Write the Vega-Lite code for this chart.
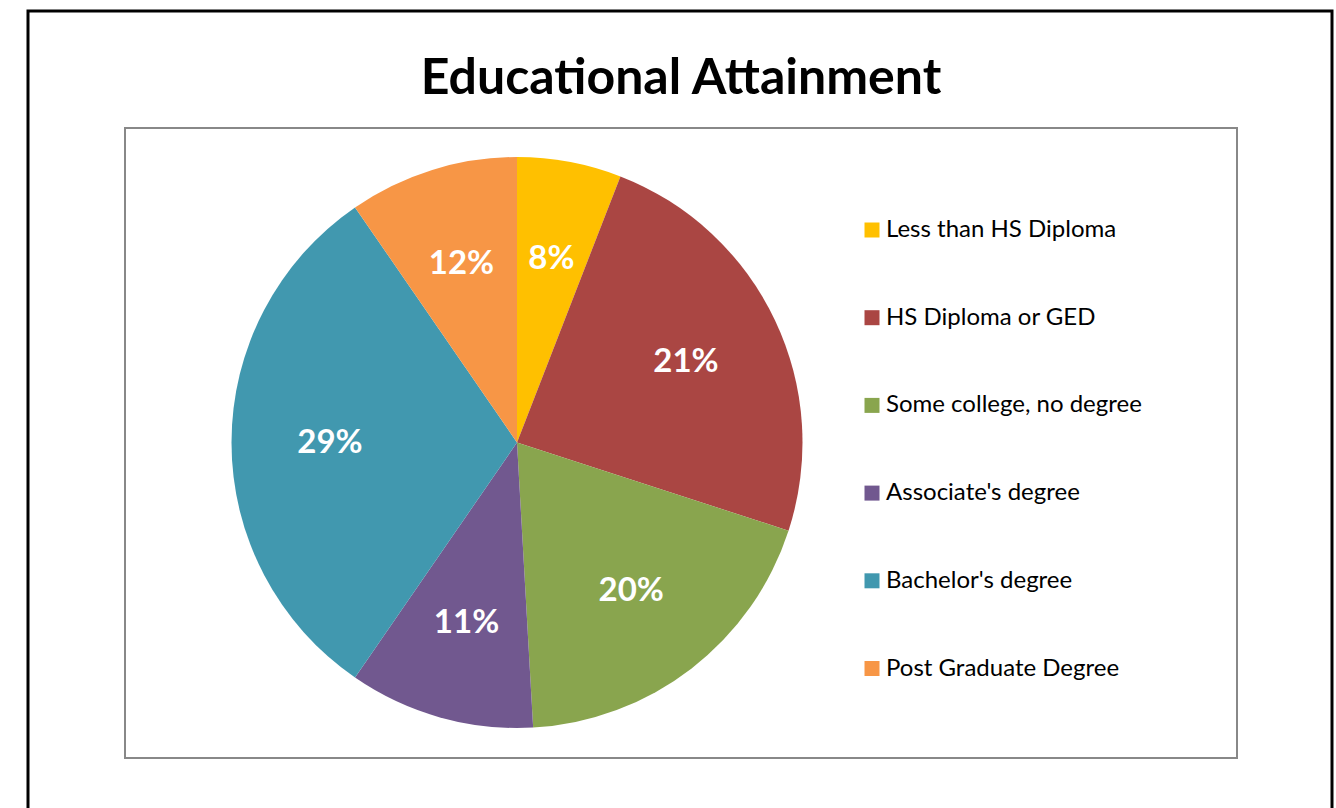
{
  "$schema": "https://vega.github.io/schema/vega-lite/v6.json",
  "width": 1112,
  "height": 630,
  "autosize": {"type": "none"},
  "padding": {"left": 125, "top": 128, "right": 99, "bottom": 50},
  "background": "white",
  "view": {"stroke": "#888888", "strokeWidth": 2, "fill": "white"},
  "title": {
    "text": "Educational Attainment",
    "font": "Lato",
    "fontSize": 50,
    "fontWeight": "bold",
    "color": "black",
    "anchor": "middle",
    "frame": "group",
    "offset": -94
  },
  "config": {
    "view": {"stroke": "#888888", "strokeWidth": 2},
    "font": "Lato"
  },
  "data": {
    "values": [
      {"category": "Less than HS Diploma", "value": 5.9, "label": "8%"},
      {"category": "HS Diploma or GED", "value": 24.1, "label": "21%"},
      {"category": "Some college, no degree", "value": 19.1, "label": "20%"},
      {"category": " Associate's degree", "value": 10.5, "label": "11%"},
      {"category": "Bachelor's degree", "value": 30.8, "label": "29%"},
      {"category": "Post Graduate Degree", "value": 9.6, "label": "12%"}
    ]
  },
  "transform": [{"window": [{"op": "row_number", "as": "idx"}]}],
  "layer": [
    {
      "data": {"values": [{"frame": 1}]},
      "transform": [],
      "mark": {"type": "rect", "x": -97, "x2": 1207, "y": -117, "y2": 720, "fill": null, "stroke": "black", "strokeWidth": 3},
      "encoding": {}
    },
    {
      "mark": {"type": "arc", "outerRadius": 285.5, "x": 392, "y": 314.5},
      "encoding": {
        "theta": {"field": "value", "type": "quantitative", "stack": true},
        "order": {"field": "idx", "type": "quantitative", "sort": "ascending"},
        "color": {
          "field": "category",
          "type": "nominal",
          "sort": null,
          "scale": {
            "domain": ["Less than HS Diploma", "HS Diploma or GED", "Some college, no degree", " Associate's degree", "Bachelor's degree", "Post Graduate Degree"],
            "range": ["#FFC000", "#AA4643", "#89A54E", "#71588F", "#4198AF", "#F79646"]
          },
          "legend": {
            "title": null,
            "orient": "none",
            "legendX": 735,
            "legendY": 90,
            "symbolType": "square",
            "symbolSize": 225,
            "symbolStrokeWidth": 0,
            "labelFont": "Lato",
            "labelFontSize": 24,
            "labelColor": "black",
            "labelOffset": 2,
            "rowPadding": 63.7,
            "padding": 0,
            "labelLimit": 400
          }
        }
      }
    },
    {
      "mark": {"type": "text", "x": 392, "y": 314.5, "radius": 187, "font": "Lato", "fontSize": 33, "fontWeight": "bold", "fill": "white", "align": "center", "baseline": "middle"},
      "encoding": {
        "theta": {"field": "value", "type": "quantitative", "stack": true},
        "order": {"field": "idx", "type": "quantitative", "sort": "ascending"},
        "text": {"field": "label", "type": "nominal"}
      }
    }
  ]
}
